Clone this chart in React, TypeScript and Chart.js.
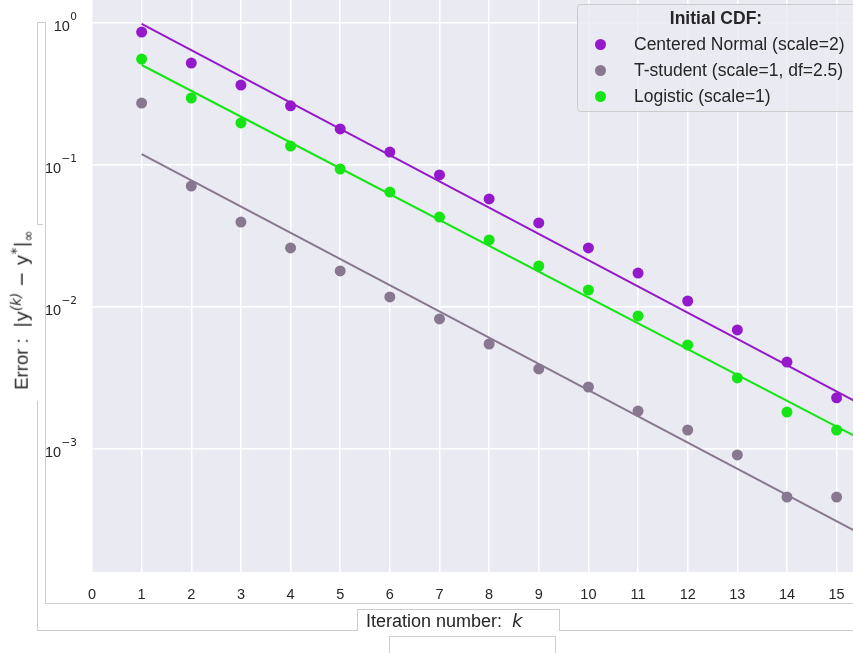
import React, { useEffect, useRef } from 'react';
import { Chart, registerables } from 'chart.js';

Chart.register(...registerables);

// ---- data ----
const iterations = [1, 2, 3, 4, 5, 6, 7, 8, 9, 10, 11, 12, 13, 14, 15];
const normalErr = [0.86, 0.52, 0.364, 0.26, 0.179, 0.123, 0.0848, 0.0575, 0.039, 0.026, 0.0173, 0.011, 0.00688, 0.00409, 0.00229];
const tStudentErr = [0.272, 0.0708, 0.0395, 0.026, 0.0179, 0.01175, 0.00822, 0.00548, 0.00366, 0.00273, 0.00185, 0.00136, 0.000908, 0.000459, 0.000459];
const logisticErr = [0.555, 0.295, 0.197, 0.1355, 0.0933, 0.0643, 0.0429, 0.0296, 0.0194, 0.01315, 0.00863, 0.0054, 0.00316, 0.00182, 0.00136];

const fitK = [1, 16];
const normalFit = [0.98, 0.00166];
const tStudentFit = [0.119, 0.000203];
const logisticFit = [0.504, 0.000947];

const seriesNames = ['Centered Normal (scale=2)', 'T-student (scale=1, df=2.5)', 'Logistic (scale=1)'];
const seriesColors = ['#9419CB', '#87788F', '#15E515'];

const xTicks = [0, 1, 2, 3, 4, 5, 6, 7, 8, 9, 10, 11, 12, 13, 14, 15];
const yTicks = [0.001, 0.01, 0.1, 1];
const yTickBase = '10';
const yTickExponents = ['\u22123', '\u22122', '\u22121', '0'];

const xMin = 0;
const xMax = 15.33;
const yMin = 1.362e-4;
const yMax = 1.445;

const FONT = '"Liberation Sans", Arial, sans-serif';
const TEXT = '#262626';
const EDGE = '#cdcdcd';

function pts(xs: number[], ys: number[]) {
  return xs.map((x, i) => ({ x, y: ys[i] }));
}

export default function App() {
  const ref = useRef<HTMLCanvasElement | null>(null);

  useEffect(() => {
    if (!ref.current) return;
    const errs = [normalErr, tStudentErr, logisticErr];
    const fits = [normalFit, tStudentFit, logisticFit];
    const datasets: any[] = [];
    fits.forEach((f, i) => {
      datasets.push({
        type: 'line',
        label: seriesNames[i] + ' fit',
        data: pts(fitK, f),
        borderColor: seriesColors[i],
        backgroundColor: seriesColors[i],
        borderWidth: 2,
        pointRadius: 0,
        fill: false,
        order: 2,
      });
    });
    errs.forEach((e, i) => {
      datasets.push({
        type: 'scatter',
        label: seriesNames[i],
        data: pts(iterations, e),
        backgroundColor: seriesColors[i],
        borderColor: seriesColors[i],
        borderWidth: 0,
        pointRadius: 5.5,
        order: 1,
      });
    });

    const chart = new Chart(ref.current, {
      type: 'scatter',
      data: { datasets },
      options: {
        animation: false,
        responsive: false,
        devicePixelRatio: 1,
        layout: { padding: 0, autoPadding: false },
        plugins: {
          legend: { display: false },
          tooltip: { enabled: false },
          title: { display: false },
        },
        scales: {
          x: {
            type: 'linear',
            min: xMin,
            max: xMax,
            border: { display: false },
            grid: { color: '#ffffff', lineWidth: 1.5, drawTicks: false },
            ticks: {
              padding: 14,
              color: TEXT,
              font: { family: FONT, size: 14.5 },
              callback: (v: any) => String(v),
            },
            afterBuildTicks: (s: any) => {
              s.ticks = xTicks.map((v) => ({ value: v }));
            },
            afterFit: (s: any) => {
              s.height = 81;
              s.paddingLeft = 0;
              s.paddingRight = 0;
              s.paddingTop = 0;
              s.paddingBottom = 0;
            },
          },
          y: {
            type: 'logarithmic',
            min: yMin,
            max: yMax,
            border: { display: false },
            grid: { color: '#ffffff', lineWidth: 1.5, drawTicks: false },
            ticks: {
              display: false,
              padding: 15,
              color: TEXT,
              font: { family: FONT, size: 14.5 },
            },
            afterBuildTicks: (s: any) => {
              s.ticks = yTicks.map((v) => ({ value: v }));
            },
            afterFit: (s: any) => {
              s.width = 92;
              s.paddingLeft = 0;
              s.paddingRight = 0;
              s.paddingTop = 0;
              s.paddingBottom = 0;
            },
          },
        },
      },
      plugins: [
        {
          id: 'bg',
          beforeDraw: (c: any) => {
            const { ctx, chartArea } = c;
            ctx.save();
            ctx.fillStyle = '#EAEAF2';
            ctx.fillRect(chartArea.left, chartArea.top, chartArea.right - chartArea.left, chartArea.bottom - chartArea.top);
            ctx.restore();
          },
        },
        {
          id: 'powLabels',
          afterDraw: (c: any) => {
            const { ctx } = c;
            const ys = c.scales.y;
            const right = ys.right - 15;
            ctx.save();
            ctx.fillStyle = TEXT;
            ctx.textBaseline = 'alphabetic';
            ctx.textAlign = 'left';
            yTicks.forEach((t, i) => {
              const py = ys.getPixelForValue(t);
              ctx.font = `10.5px "DejaVu Sans", sans-serif`;
              const ew = ctx.measureText(yTickExponents[i]).width;
              ctx.font = `14.5px ${FONT}`;
              const bw = ctx.measureText(yTickBase).width;
              const x0 = right - ew - bw - 0.5;
              ctx.fillText(yTickBase, x0, py + 8);
              ctx.font = `10.5px "DejaVu Sans", sans-serif`;
              ctx.fillText(yTickExponents[i], x0 + bw + 0.5, py - 2.5);
            });
            ctx.restore();
          },
        },
      ],
    } as any);
    return () => chart.destroy();
  }, []);

  const line = (l: number, t: number, w: number, h: number, key: string) => (
    <div key={key} style={{ position: 'absolute', left: l, top: t, width: w, height: h, background: EDGE }} />
  );

  return (
    <div style={{ position: 'absolute', left: 0, top: 0, width: 853, height: 653, overflow: 'hidden', background: '#ffffff', fontFamily: FONT }}>
      {/* frame artefacts */}
      {line(37, 22, 1, 202, 'a1')}
      {line(37, 22, 8, 1, 'a2')}
      {line(37, 224, 6, 1, 'a3')}
      {line(45, 22, 1, 581, 'b1')}
      {line(45, 603, 820, 1, 'b2')}
      {line(37, 401, 1, 230, 'c1')}
      {line(37, 630, 320, 1, 'c2')}
      {line(559, 630, 300, 1, 'c3')}
      {line(357, 609, 1, 22, 'd1')}
      {line(357, 609, 203, 1, 'd2')}
      {line(559, 609, 1, 22, 'd3')}
      {line(389, 636, 1, 20, 'e1')}
      {line(389, 636, 167, 1, 'e2')}
      {line(555, 636, 1, 20, 'e3')}

      <canvas ref={ref} width={853} height={653} style={{ position: 'absolute', left: 0, top: 0, width: 853, height: 653 }} />

      {/* legend */}
      <div style={{ position: 'absolute', left: 577, top: 4, width: 300, height: 108, background: 'rgba(234,234,242,0.8)', border: '1px solid #cccccc', borderRadius: 4, boxSizing: 'border-box' }} />
      <div style={{ position: 'absolute', left: 577, top: 8, width: 278, textAlign: 'center', fontWeight: 'bold', fontSize: 17.5, color: TEXT, lineHeight: '20px' }}>Initial CDF:</div>
      {seriesNames.map((n, i) => (
        <React.Fragment key={n}>
          <div style={{ position: 'absolute', left: 594.5, top: 44 + i * 26 - 5.5, width: 11, height: 11, borderRadius: '50%', background: seriesColors[i] }} />
          <div style={{ position: 'absolute', left: 634, top: 44 + i * 26 - 10, fontSize: 17.5, lineHeight: '20px', color: TEXT, whiteSpace: 'nowrap' }}>{n}</div>
        </React.Fragment>
      ))}

      {/* axis titles */}
      <div style={{ position: 'absolute', left: 366, top: 611, fontSize: 18, lineHeight: '20px', color: TEXT, whiteSpace: 'nowrap' }}>
        Iteration number:{'\u00A0\u00A0'}<span style={{ fontFamily: '"DejaVu Sans", sans-serif', fontStyle: 'italic' }}>k</span>
      </div>
      <div style={{ position: 'absolute', left: 22, top: 310, transform: 'translate(-50%, -50%) rotate(-90deg)', fontSize: 18.5, lineHeight: 1, color: TEXT, whiteSpace: 'nowrap' }}>
        Error :{'\u00A0\u00A0'}
        <span style={{ fontFamily: '"DejaVu Sans", sans-serif' }}>
          |y<sup style={{ fontSize: '0.72em', lineHeight: 0, fontStyle: 'italic' }}>(k)</sup>
          {'\u00A0\u2212\u00A0'}y<sup style={{ fontSize: '0.75em', lineHeight: 0 }}>*</sup>|<sub style={{ fontSize: '0.72em', lineHeight: 0 }}>∞</sub>
        </span>
      </div>
    </div>
  );
}
